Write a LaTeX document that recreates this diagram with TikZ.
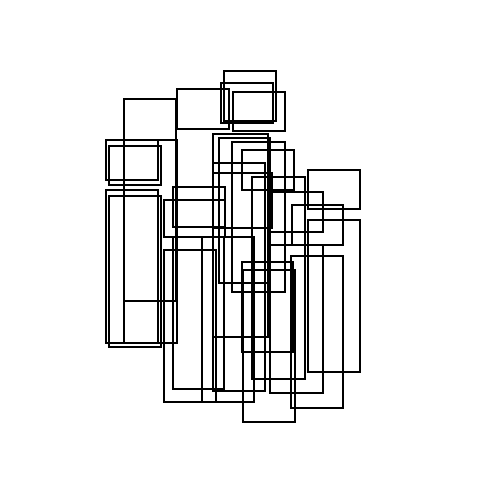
\documentclass[tikz,border=0pt]{standalone}
\begin{document}
\begin{tikzpicture}[x=1pt,y=-1pt,box/.style={draw=black,line width=2pt}]
\useasboundingbox[fill=white] (0,0) rectangle (500,500);
\foreach \a/\b/\c/\d [count=\i] in {
124/99/176/301, 177/89/229/129, 106/140/158/180, 109/146/161/185,
224/71/276/121, 221/83/273/123, 233/92/285/131, 308/170/360/209,
308/220/360/372, 291/256/343/408, 243/270/295/422, 106/190/158/343,
109/196/161/347, 124/140/177/343, 213/134/268/337, 232/142/285/292,
242/150/294/190, 213/163/265/391, 252/177/305/379, 270/245/323/393,
270/192/323/232, 164/200/225/237, 173/187/225/227, 164/250/216/402,
202/237/254/402, 173/237/224/389, 242/262/293/352, 292/205/343/245,
219/138/270/283, 213/173/272/228}
  \draw[box] (\a,\b) rectangle (\c,\d) coordinate (r\i);
\end{tikzpicture}
\end{document}
